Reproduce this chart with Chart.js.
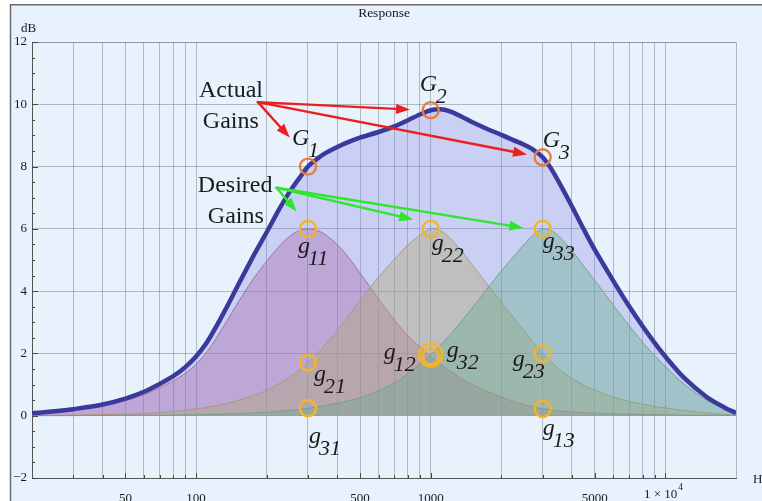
<!DOCTYPE html>
<html>
<head>
<meta charset="utf-8">
<title>Response</title>
<script src="https://cdn.jsdelivr.net/npm/chart.js@4.4.1/dist/chart.umd.min.js"></script>
<style>
  html, body { margin: 0; padding: 0; background: #ffffff; }
  #wrap { width: 762px; height: 501px; position: relative; }
</style>
</head>
<body>
<div id="wrap"><canvas id="chart" width="762" height="501"></canvas></div>
<script>
// Frequency samples (Hz) shared by every curve
const freqs = [20, 25, 30, 40, 50, 60, 70, 80, 90, 100, 110, 120, 135, 150, 175, 200, 225, 250, 275, 300,
  325, 350, 400, 450, 500, 600, 700, 800, 900, 1000, 1100, 1200, 1350, 1500, 1750, 2000, 2250, 2500, 2750,
  3000, 3250, 3500, 4000, 4500, 5000, 6000, 7000, 8000, 9000, 10000, 12000, 15000, 18000, 20000];

// Overall response of the cascade (dB)
const sumGain = [0.08, 0.14, 0.21, 0.36, 0.55, 0.77, 1.02, 1.27, 1.56, 1.9, 2.3, 2.77, 3.48, 4.15, 5.11,
  5.89, 6.6, 7.18, 7.62, 8.0, 8.22, 8.4, 8.63, 8.8, 8.93, 9.11, 9.29, 9.49, 9.67, 9.81, 9.84, 9.78, 9.61,
  9.43, 9.2, 9.02, 8.85, 8.7, 8.53, 8.3, 7.95, 7.53, 6.72, 5.97, 5.33, 4.33, 3.52, 2.87, 2.34, 1.9, 1.22,
  0.6, 0.25, 0.09];

// Individual peaking bands (dB)
const band1 = [0.07, 0.12, 0.18, 0.31, 0.48, 0.68, 0.9, 1.12, 1.36, 1.65, 2.0, 2.41, 3.03, 3.6, 4.38, 4.96,
  5.42, 5.76, 5.95, 6.0, 5.96, 5.85, 5.5, 5.05, 4.58, 3.75, 3.08, 2.56, 2.2, 1.9, 1.65, 1.45, 1.2, 1.0,
  0.78, 0.6, 0.46, 0.36, 0.28, 0.22, 0.19, 0.16, 0.12, 0.1, 0.08, 0.06, 0.05, 0.04, 0.035, 0.03, 0.02,
  0.015, 0.01, 0.005];
const band2 = [0.01, 0.015, 0.02, 0.035, 0.055, 0.075, 0.1, 0.13, 0.17, 0.22, 0.26, 0.31, 0.39, 0.48, 0.64,
  0.82, 1.02, 1.23, 1.46, 1.7, 1.96, 2.22, 2.74, 3.24, 3.7, 4.45, 5.02, 5.48, 5.8, 6.0, 5.95, 5.72, 5.3,
  4.85, 4.2, 3.65, 3.15, 2.72, 2.34, 2.0, 1.74, 1.52, 1.2, 0.98, 0.82, 0.6, 0.46, 0.37, 0.3, 0.25, 0.17,
  0.09, 0.04, 0.015];
const band3 = [0, 0.002, 0.004, 0.007, 0.01, 0.014, 0.018, 0.022, 0.027, 0.032, 0.038, 0.045, 0.056, 0.068,
  0.09, 0.11, 0.14, 0.17, 0.2, 0.24, 0.28, 0.32, 0.4, 0.49, 0.58, 0.8, 1.05, 1.35, 1.65, 1.95, 2.26, 2.57,
  3.02, 3.45, 4.1, 4.65, 5.1, 5.5, 5.82, 6.0, 5.95, 5.78, 5.3, 4.8, 4.35, 3.55, 2.9, 2.36, 1.93, 1.58, 1.02,
  0.5, 0.2, 0.07];

// Band centre frequencies (Hz)
const centerFreqs = [300, 1000, 3000];

// Axis ticks
const gridFreqs = [30, 40, 50, 60, 70, 80, 90, 100, 200, 300, 400, 500, 600, 700, 800, 900, 1000,
  2000, 3000, 4000, 5000, 6000, 7000, 8000, 9000, 10000];
const freqLabelValues = [50, 100, 500, 1000, 5000];
const dbTicks = [-2, 0, 2, 4, 6, 8, 10, 12];

// Callout texts and arrows, in (Hz, dB)
const calloutTexts = [
  { text: 'Actual', f: 103, db: 10.22 },
  { text: 'Gains', f: 106.9, db: 9.25 },
  { text: 'Desired', f: 101.8, db: 7.18 },
  { text: 'Gains', f: 112.3, db: 6.2 }
];
const actualArrowFrom = [183.5, 10.07];
const actualArrowTo = [[251, 8.93], [816, 9.83], [2574, 8.39]];
const desiredArrowFrom = [220.4, 7.32];
const desiredArrowTo = [[268.3, 6.56], [843, 6.30], [2483, 6.03]];

const bands = [band1, band2, band3];
const valueAt = (arr, f) => arr[freqs.indexOf(f)];
const toPoints = arr => freqs.map((f, i) => ({ x: f, y: arr[i] }));

// Actual gains G_j on the overall curve
const actualMarks = centerFreqs.map((f, j) => ({ x: f, y: valueAt(sumGain, f), sub: String(j + 1) }));
// Desired gains g_ij : band i evaluated at centre j
const desiredMarks = [];
bands.forEach((b, i) => centerFreqs.forEach((f, j) => {
  desiredMarks.push({ x: f, y: valueAt(b, f), sub: `${i + 1}${j + 1}` });
}));

// text offsets (px) of each symbol from its marker
const labelOffsets = {
  '1': [-16, -22], '2': [-11, -19], '3': [0, -10],
  '11': [-10, 24], '21': [6, 18], '31': [1, 35],
  '12': [-47, 2], '22': [1, 21], '32': [16, 2],
  '13': [0, 26], '23': [-30, 13], '33': [0, 19]
};

const SERIF = '"Liberation Serif", "DejaVu Serif", serif';
const gridColor = 'rgba(95,108,125,0.42)';
const SMOOTH = 0.3;

const decorations = {
  id: 'decorations',
  beforeDraw(chart) {
    const { ctx, width, height } = chart;
    ctx.save();
    ctx.fillStyle = '#ffffff';
    ctx.fillRect(0, 0, width, height);
    ctx.fillStyle = '#e8f2fc';
    ctx.fillRect(11, 5, width - 11, height - 5);
    ctx.strokeStyle = '#6a6a6a';
    ctx.lineWidth = 1.5;
    ctx.beginPath();
    ctx.moveTo(10.5, height);
    ctx.lineTo(10.5, 4.75);
    ctx.lineTo(width, 4.75);
    ctx.stroke();
    ctx.restore();
  },
  afterDatasetsDraw(chart) {
    const { ctx, chartArea: a, scales: { x, y } } = chart;
    ctx.save();
    // frame (top / right)
    ctx.strokeStyle = gridColor;
    ctx.lineWidth = 1;
    ctx.beginPath();
    ctx.moveTo(Math.round(a.left) + 0.5, Math.round(a.top) + 0.5);
    ctx.lineTo(Math.round(a.right) + 0.5, Math.round(a.top) + 0.5);
    ctx.lineTo(Math.round(a.right) + 0.5, Math.round(a.bottom) + 0.5);
    ctx.stroke();

    // inward tick marks
    ctx.strokeStyle = '#444';
    ctx.lineWidth = 1;
    ctx.beginPath();
    for (let v = -2; v <= 12.001; v += 0.5) {
      const py = Math.round(y.getPixelForValue(v)) + 0.5;
      const len = (Math.abs(v % 2) < 1e-6) ? 6 : 3;
      ctx.moveTo(a.left, py);
      ctx.lineTo(a.left + len, py);
    }
    gridFreqs.forEach(f => {
      const px = Math.round(x.getPixelForValue(f)) + 0.5;
      const len = (freqLabelValues.includes(f) || f === 10000) ? 5 : 3;
      ctx.moveTo(px, a.bottom);
      ctx.lineTo(px, a.bottom - len);
    });
    ctx.stroke();

    // title and axis names
    ctx.fillStyle = '#1a1a1a';
    ctx.font = `13.5px ${SERIF}`;
    ctx.textAlign = 'center';
    ctx.textBaseline = 'alphabetic';
    ctx.fillText('Response', (a.left + a.right) / 2, 17);
    ctx.textAlign = 'left';
    ctx.font = `13px ${SERIF}`;
    ctx.fillText('dB', 21, 32);
    ctx.fillText('Hz', 753, 483);
    // 1×10^4 tick label
    const p4 = x.getPixelForValue(10000);
    ctx.textAlign = 'right';
    ctx.fillText('1 × 10', p4 + 12, 498);
    ctx.textAlign = 'left';
    ctx.font = `9.5px ${SERIF}`;
    ctx.fillText('4', p4 + 13, 490);

    // arrows
    const arrow = (from, to, color) => {
      const x0 = x.getPixelForValue(from[0]), y0 = y.getPixelForValue(from[1]);
      const x1 = x.getPixelForValue(to[0]), y1 = y.getPixelForValue(to[1]);
      const ang = Math.atan2(y1 - y0, x1 - x0);
      const hl = 14, hw = 5;
      const bx = x1 - hl * Math.cos(ang), by = y1 - hl * Math.sin(ang);
      ctx.strokeStyle = color;
      ctx.fillStyle = color;
      ctx.lineWidth = 2.4;
      ctx.lineCap = 'round';
      ctx.beginPath();
      ctx.moveTo(x0, y0);
      ctx.lineTo(bx, by);
      ctx.stroke();
      ctx.beginPath();
      ctx.moveTo(x1, y1);
      ctx.lineTo(bx - hw * Math.sin(ang), by + hw * Math.cos(ang));
      ctx.lineTo(bx + hw * Math.sin(ang), by - hw * Math.cos(ang));
      ctx.closePath();
      ctx.fill();
    };
    actualArrowTo.forEach(t => arrow(actualArrowFrom, t, '#ec1f1f'));
    desiredArrowTo.forEach(t => arrow(desiredArrowFrom, t, '#2ee62e'));

    // callout words
    ctx.fillStyle = '#1a1a1a';
    ctx.font = `24px ${SERIF}`;
    ctx.textAlign = 'left';
    calloutTexts.forEach(c => ctx.fillText(c.text, x.getPixelForValue(c.f), y.getPixelForValue(c.db)));

    // G_j and g_ij symbols
    const symbol = (mark, letter, subDx) => {
      const off = labelOffsets[mark.sub];
      const px = x.getPixelForValue(mark.x) + off[0];
      const py = y.getPixelForValue(mark.y) + off[1];
      ctx.font = `italic 24px ${SERIF}`;
      ctx.fillText(letter, px, py);
      ctx.font = `italic 22px ${SERIF}`;
      ctx.fillText(mark.sub, px + subDx, py + 12);
    };
    actualMarks.forEach(m => symbol(m, 'G', 16));
    desiredMarks.forEach(m => symbol(m, 'g', 10));
    ctx.restore();
  }
};

const bandDataset = (label, arr, fill, stroke, order) => ({
  label, data: toPoints(arr), fill: 'origin', backgroundColor: fill, borderColor: stroke,
  borderWidth: 1, pointRadius: 0, tension: SMOOTH, order
});

new Chart(document.getElementById('chart'), {
  type: 'line',
  data: {
    datasets: [
      {
        label: 'Actual gains', data: actualMarks, showLine: false, pointRadius: 8,
        pointBorderColor: '#ec7a3a', pointBorderWidth: 2.3, pointBackgroundColor: 'rgba(0,0,0,0)', order: 0
      },
      {
        label: 'Desired gains', data: desiredMarks, showLine: false,
        pointRadius: desiredMarks.map(m => m.sub === '32' ? 11.5 : 8),
        pointBorderColor: '#f4b429', pointBorderWidth: 2.5, pointBackgroundColor: 'rgba(0,0,0,0)', order: 0
      },
      {
        label: 'Response', data: toPoints(sumGain), fill: false, borderColor: '#3b3a9c', borderWidth: 4.5,
        pointRadius: 0, tension: SMOOTH, order: 1
      },
      bandDataset('Band 3', band3, 'rgba(105,172,140,0.40)', 'rgba(110,160,130,0.9)', 2),
      bandDataset('Band 2', band2, 'rgba(178,166,118,0.40)', 'rgba(170,150,115,0.9)', 3),
      bandDataset('Band 1', band1, 'rgba(168,100,165,0.38)', 'rgba(160,110,140,0.9)', 4),
      {
        label: 'Response area', data: toPoints(sumGain), fill: 'origin',
        backgroundColor: 'rgba(128,128,226,0.30)', borderWidth: 0, pointRadius: 0,
        tension: SMOOTH, order: 5
      }
    ]
  },
  options: {
    responsive: false,
    animation: false,
    events: [],
    layout: { padding: { left: 0, top: 42, right: 26, bottom: 0 } },
    plugins: { legend: { display: false }, tooltip: { enabled: false }, title: { display: false } },
    scales: {
      x: {
        type: 'logarithmic', min: 20, max: 20000,
        afterBuildTicks: s => { s.ticks = gridFreqs.map(v => ({ value: v })); },
        afterFit: s => { s.height = 23; },
        ticks: {
          autoSkip: false, maxRotation: 0, minRotation: 0, padding: 13, color: '#1a1a1a',
          font: { family: SERIF, size: 13 },
          callback: v => freqLabelValues.includes(v) ? String(v) : ''
        },
        grid: { color: gridColor, lineWidth: 1, drawTicks: false },
        border: { display: true, color: '#555', width: 1 }
      },
      y: {
        min: -2, max: 12,
        afterBuildTicks: s => { s.ticks = dbTicks.map(v => ({ value: v })); },
        afterFit: s => { s.width = 32; },
        ticks: {
          padding: 5, color: '#1a1a1a', font: { family: SERIF, size: 13 },
          callback: v => v < 0 ? '\u2212' + (-v) : String(v)
        },
        grid: { color: gridColor, lineWidth: 1, drawTicks: false },
        border: { display: true, color: '#555', width: 1 }
      }
    }
  },
  plugins: [decorations]
});
</script>
</body>
</html>
